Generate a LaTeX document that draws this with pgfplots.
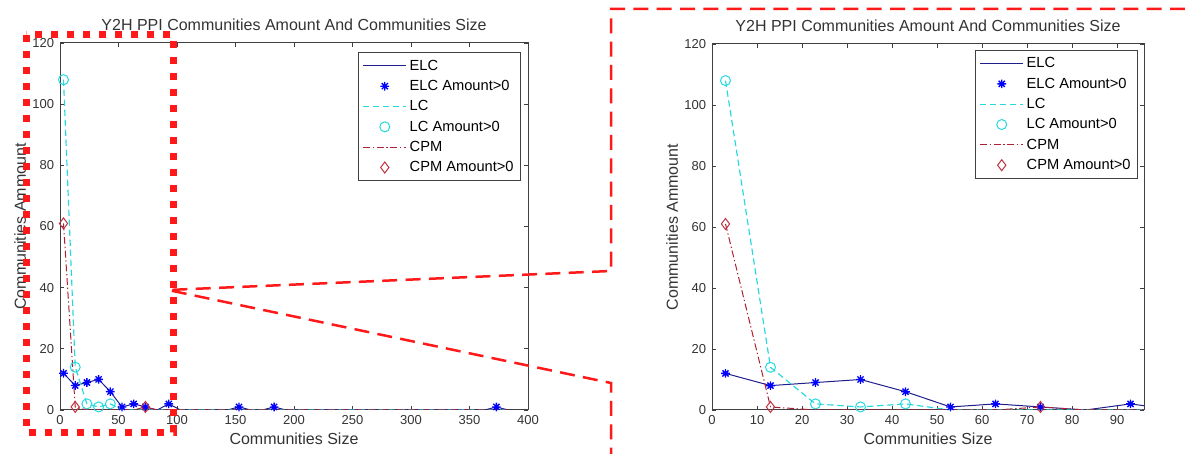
\documentclass[border=0pt]{standalone}
\usepackage{fontspec}
\setmainfont{Liberation Sans}
\usepackage{pgfplots}
\usepackage{pgfplotstable}
\pgfplotsset{compat=1.18}

\definecolor{elcline}{rgb}{0.12,0.12,0.55}
\definecolor{elcmark}{rgb}{0,0,1}
\definecolor{lccol}{rgb}{0.15,0.85,0.87}
\definecolor{cpmline}{rgb}{0.68,0.12,0.2}
\definecolor{cpmmark}{rgb}{0.75,0.2,0.25}
\definecolor{zoomred}{rgb}{1,0.1,0.1}
\definecolor{axgray}{gray}{0.25}

\pgfdeclareplotmark{mstar}{%
 \pgfpathmoveto{\pgfqpoint{-\pgfplotmarksize}{0pt}}\pgfpathlineto{\pgfqpoint{\pgfplotmarksize}{0pt}}%
 \pgfpathmoveto{\pgfqpoint{0pt}{-\pgfplotmarksize}}\pgfpathlineto{\pgfqpoint{0pt}{\pgfplotmarksize}}%
 \pgfpathmoveto{\pgfqpoint{-.707\pgfplotmarksize}{-.707\pgfplotmarksize}}\pgfpathlineto{\pgfqpoint{.707\pgfplotmarksize}{.707\pgfplotmarksize}}%
 \pgfpathmoveto{\pgfqpoint{-.707\pgfplotmarksize}{.707\pgfplotmarksize}}\pgfpathlineto{\pgfqpoint{.707\pgfplotmarksize}{-.707\pgfplotmarksize}}%
 \pgfusepathqstroke}

\pgfplotstableread{
x elc lc cpm
3 12 108 61
13 8 14 1
23 9 2 0
33 10 1 0
43 6 2 0
53 1 0 0
63 2 0 0
73 1 0 1
83 0 0 0
93 2 0 0
103 0 0 0
113 0 0 0
123 0 0 0
133 0 0 0
143 0 0 0
153 1 0 0
163 0 0 0
173 0 0 0
183 1 0 0
193 0 0 0
203 0 0 0
213 0 0 0
223 0 0 0
233 0 0 0
243 0 0 0
253 0 0 0
263 0 0 0
273 0 0 0
283 0 0 0
293 0 0 0
303 0 0 0
313 0 0 0
323 0 0 0
333 0 0 0
343 0 0 0
353 0 0 0
363 0 0 0
373 1 0 0
383 0 0 0
}\alldata

\pgfplotstableread{
x y
3 12
13 8
23 9
33 10
43 6
53 1
63 2
73 1
93 2
153 1
183 1
373 1
}\elcpos

\pgfplotstableread{
x y
3 108
13 14
23 2
33 1
43 2
}\lcpos

\pgfplotstableread{
x y
3 61
13 1
73 1
}\cpmpos

\pgfplotsset{
  linelegend/.style={legend image code/.code={\draw[##1] (0pt,0pt) -- (26pt,0pt);}},
  marklegend/.style={legend image code/.code={\draw[##1] plot coordinates {(13pt,0pt)};}},
  matstyle/.style={
    scale only axis,
    ymin=0, ymax=120,
    ytick={0,20,...,120},
    axis line style={axgray, line width=0.6pt},
    tick style={axgray, line width=0.5pt},
    major tick length=2.4pt,
    tick align=inside,
    /pgf/number format/assume math mode=true,
    tick label style={font=\fontsize{7.8}{9}\selectfont, text=black!80},
    label style={font=\fontsize{9.6}{11}\selectfont, text=black!80},
    title style={font=\fontsize{9.6}{11}\selectfont, text=black!80, at={(0.5,1)}, anchor=south, yshift=-2pt},
    xlabel={Communities Size},
    ylabel={Communities Ammount},
    title={Y2H PPI Communities Amount And Communities Size},
    xlabel style={yshift=2pt},
    ylabel style={yshift=-3pt},
    legend cell align=left,
    legend style={font=\fontsize{8.8}{10}\selectfont, draw=axgray, line width=0.6pt,
      anchor=north east, inner xsep=2.5pt, inner ysep=2pt, row sep=0.4pt,
      nodes={inner sep=1.6pt, text height=6.8pt, text depth=1.8pt}},
  },
  elcl/.style={elcline, line width=0.6pt, linelegend},
  elcm/.style={elcmark, only marks, mark=mstar, mark size=2.6pt, line width=0.8pt, marklegend},
  lcl/.style={lccol, line width=0.7pt, dash pattern=on 3.8pt off 2.2pt, linelegend},
  lcm/.style={lccol, only marks, mark=o, mark size=3pt, line width=0.6pt, marklegend},
  cpml/.style={cpmline, line width=0.6pt, dash pattern=on 4.2pt off 1.6pt on 0.8pt off 1.6pt, linelegend},
  cpmm/.style={cpmmark, only marks, mark=diamond, mark size=3.3pt, line width=0.6pt, marklegend},
}

\begin{document}
\begin{tikzpicture}
% left axis
\begin{axis}[matstyle,
  at={(36pt,26.4pt)}, anchor=south west,
  width=280.8pt, height=220.2pt,
  xmin=0, xmax=400, xtick={0,50,...,400},
  legend style={at={(0.985,0.975)}},
]
\addplot[elcl] table[x=x,y=elc]{\alldata};
\addlegendentry{ELC}
\addplot[elcm] table[x=x,y=y]{\elcpos};
\addlegendentry{ELC Amount>0}
\addplot[lcl] table[x=x,y=lc]{\alldata};
\addlegendentry{LC}
\addplot[lcm] table[x=x,y=y]{\lcpos};
\addlegendentry{LC Amount>0}
\addplot[cpml] table[x=x,y=cpm]{\alldata};
\addlegendentry{CPM}
\addplot[cpmm] table[x=x,y=y]{\cpmpos};
\addlegendentry{CPM Amount>0}
\end{axis}
% right axis
\begin{axis}[matstyle,
  at={(427.2pt,26.4pt)}, anchor=south west,
  width=259.2pt, height=219.6pt,
  xmin=0, xmax=96, xtick={0,10,...,90},
  legend style={at={(0.986,0.984)}},
]
\addplot[elcl] table[x=x,y=elc]{\alldata};
\addlegendentry{ELC}
\addplot[elcm] table[x=x,y=y]{\elcpos};
\addlegendentry{ELC Amount>0}
\addplot[lcl] table[x=x,y=lc]{\alldata};
\addlegendentry{LC}
\addplot[lcm] table[x=x,y=y]{\lcpos};
\addlegendentry{LC Amount>0}
\addplot[cpml] table[x=x,y=cpm]{\alldata};
\addlegendentry{CPM}
\addplot[cpmm] table[x=x,y=y]{\cpmpos};
\addlegendentry{CPM Amount>0}
\end{axis}
% zoom annotations (image pixel coordinates)
\begin{scope}[x=0.6pt,y=-0.6pt,yshift=272.4pt]
\draw[zoomred, line width=4.2pt, dash pattern=on 4.2pt off 5.4pt] (26,35) rectangle (173,432);
\draw[zoomred, line width=1.5pt, dash pattern=on 9pt off 5pt]
  (1185,9) -- (611,9) -- (611,271) -- (168,290) -- (611,383) -- (611,454);
\end{scope}
\pgfresetboundingbox
\path[use as bounding box] (0,0) rectangle (711pt,272.4pt);
\end{tikzpicture}
\end{document}
